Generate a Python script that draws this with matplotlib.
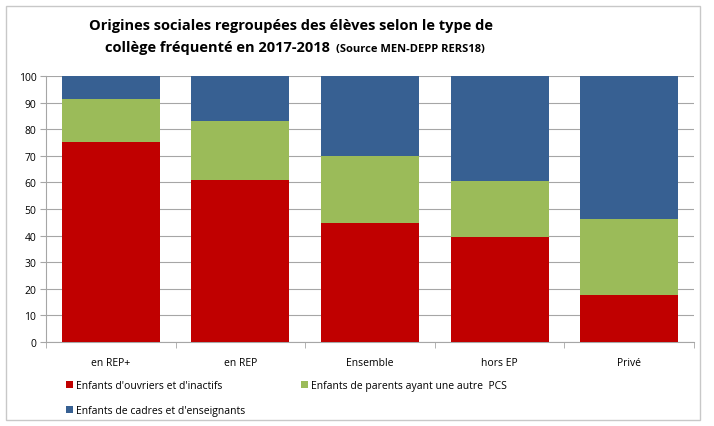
import numpy as np
import matplotlib.pyplot as plt
from matplotlib.patches import Rectangle

categories = ['en REP+', 'en REP', 'Ensemble', 'hors EP', 'Privé']
ouvriers = [75.2, 61.0, 44.7, 39.5, 17.7]
autre_pcs = [16.2, 22.0, 25.2, 21.0, 28.5]
cadres = [8.6, 17.0, 30.1, 39.5, 53.8]

labels = ["Enfants d'ouvriers et d'inactifs",
          "Enfants de parents ayant une autre  PCS",
          "Enfants de cadres et d'enseignants"]
couleurs = ['#C00000', '#9BBB59', '#376092']

plt.rcParams['font.family'] = ['Open Sans', 'DejaVu Sans']

fig = plt.figure(figsize=(7.14, 4.27), dpi=100)
ax = fig.add_axes([46 / 714, 1 - 343 / 427, 648 / 714, 266 / 427])

x = np.arange(len(categories))
w = 0.755
bas = np.zeros(len(categories))
for vals, col, lab in zip([ouvriers, autre_pcs, cadres], couleurs, labels):
    ax.bar(x, vals, w, bottom=bas, color=col, label=lab, zorder=3)
    bas = bas + np.array(vals)

ax.set_xlim(-0.5, len(categories) - 0.5)
ax.set_ylim(0, 100)
ax.set_yticks(range(0, 101, 10))
ax.yaxis.grid(True, color='#a6a6a6', linewidth=0.8, zorder=0)
ax.set_xticks(x)
ax.set_xticklabels(categories, fontsize=7.5)
ax.tick_params(axis='y', labelsize=7.5, length=4, color='#a6a6a6', pad=3)
ax.tick_params(axis='x', length=0, pad=11)
ax.set_xticks(np.arange(-0.5, len(categories)), minor=True)
ax.tick_params(axis='x', which='minor', length=4, color='#a6a6a6')
for s in ['top', 'right']:
    ax.spines[s].set_visible(False)
ax.spines['left'].set_color('#a6a6a6')
ax.spines['bottom'].set_color('#a6a6a6')

fig.text(0.408, 0.94, "Origines sociales regroupées des élèves selon le type de",
         ha='center', va='center', fontsize=10.5, fontweight='bold')
fig.text(0.147, 0.888, "collège fréquenté en 2017-2018", ha='left', va='center',
         fontsize=10.5, fontweight='bold')
fig.text(0.471, 0.885, "(Source MEN-DEPP RERS18)", ha='left', va='center',
         fontsize=8, fontweight='bold')

handles, labs = ax.get_legend_handles_labels()
ordre = [0, 2, 1]
fig.legend([handles[i] for i in ordre], [labs[i] for i in ordre],
           loc='upper left', bbox_to_anchor=(0.08, 0.13),
           ncol=2, frameon=False, fontsize=7.5, handlelength=0.6,
           handleheight=0.6, handletextpad=0.3, columnspacing=5.4,
           labelspacing=1.35)

fig.patches.append(Rectangle((6 / 714, 6 / 427), 694 / 714, 414 / 427,
                             transform=fig.transFigure, fill=False,
                             edgecolor='#c8c8c8', linewidth=1.0))

fig.savefig('out.png', dpi=100)
